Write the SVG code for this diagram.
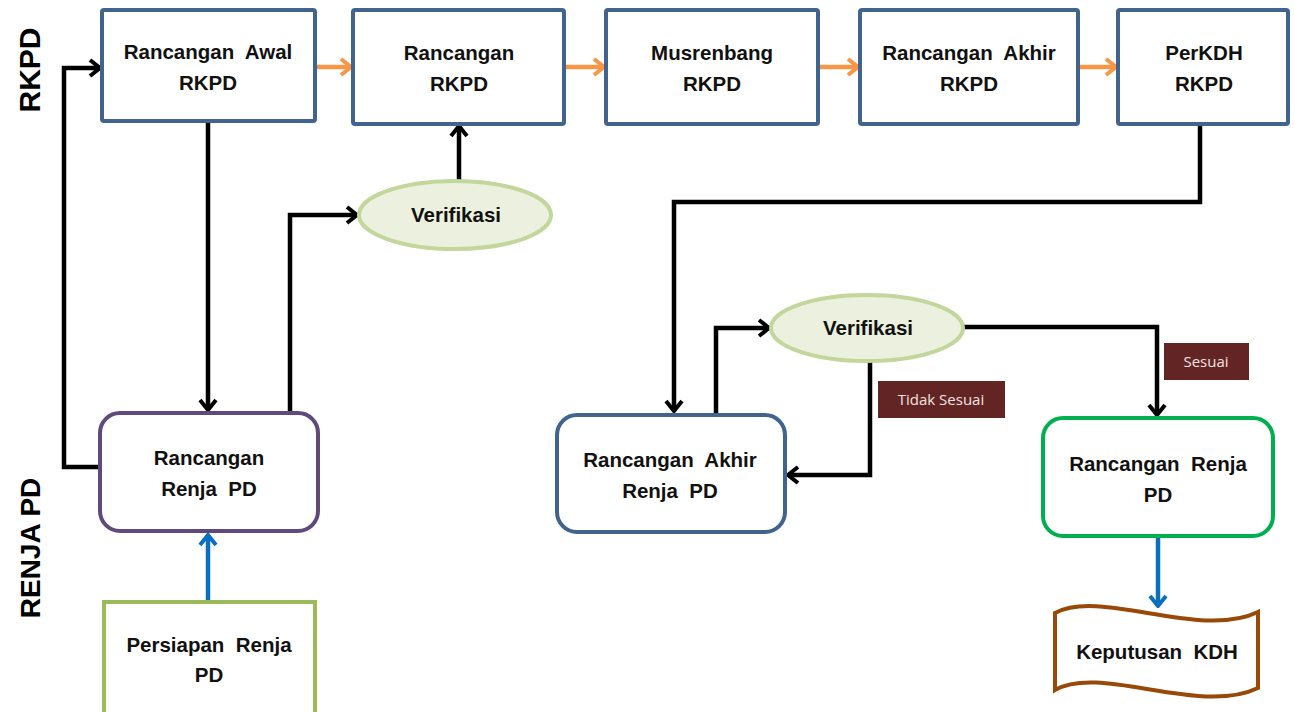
<svg xmlns="http://www.w3.org/2000/svg" width="1295" height="712" viewBox="0 0 1295 712">
<defs>
<style>
.box{fill:#fff;stroke:#41648f;stroke-width:4}
.t{font-family:"Liberation Sans",Arial,sans-serif;font-weight:bold;font-size:20.5px;fill:#111;text-anchor:middle;white-space:pre}
.side{font-family:"Liberation Sans",Arial,sans-serif;font-weight:bold;fill:#000;text-anchor:middle}
.lbl{font-family:"Open Sans","Liberation Sans",sans-serif;font-size:15px;fill:#f2e4e4;text-anchor:middle;white-space:pre}
.ell{fill:#ebf1de;stroke:#c3d69b;stroke-width:4}
.k{fill:none;stroke:#000;stroke-width:4.5;stroke-linejoin:miter}
.o{fill:none;stroke:#f79646;stroke-width:4.5}
.b{fill:none;stroke:#0a6fbf;stroke-width:4.5}
</style>
<marker id="ak" viewBox="0 0 14 20" refX="12" refY="10" markerWidth="14" markerHeight="20" markerUnits="userSpaceOnUse" orient="auto"><path d="M2,2 L12,10 L2,18" fill="none" stroke="#000" stroke-width="4"/></marker>
<marker id="ao" viewBox="0 0 14 20" refX="12" refY="10" markerWidth="14" markerHeight="20" markerUnits="userSpaceOnUse" orient="auto"><path d="M2,2 L12,10 L2,18" fill="none" stroke="#f79646" stroke-width="4"/></marker>
<marker id="ab" viewBox="0 0 14 20" refX="12" refY="10" markerWidth="14" markerHeight="20" markerUnits="userSpaceOnUse" orient="auto"><path d="M2,2 L12,10 L2,18" fill="none" stroke="#0a6fbf" stroke-width="4"/></marker>
</defs>
<rect width="1295" height="712" fill="#fff"/>

<text class="side" font-size="30" transform="translate(40,70) rotate(-90)">RKPD</text>
<text class="side" font-size="28" transform="translate(40,548) rotate(-90)">RENJA PD</text>

<g id="connectors">
<path class="o" d="M317,67 L351,67" marker-end="url(#ao)"/>
<path class="o" d="M566,67 L604,67" marker-end="url(#ao)"/>
<path class="o" d="M820,67 L858,67" marker-end="url(#ao)"/>
<path class="o" d="M1080,67 L1116,67" marker-end="url(#ao)"/>
<path class="k" d="M208,123 L208,410" marker-end="url(#ak)"/>
<path class="k" d="M100,467 L64,467 L64,68 L100,68" marker-end="url(#ak)"/>
<path class="k" d="M290,412 L290,215 L357,215" marker-end="url(#ak)"/>
<path class="k" d="M459,181 L459,126" marker-end="url(#ak)"/>
<path class="k" d="M1200,126 L1200,202 L674,202 L674,411" marker-end="url(#ak)"/>
<path class="k" d="M716,413 L716,328 L769,328" marker-end="url(#ak)"/>
<path class="k" d="M870,362 L870,475 L788,475" marker-end="url(#ak)"/>
<path class="k" d="M963,327 L1157,327 L1157,415" marker-end="url(#ak)"/>
<path class="b" d="M208,601 L208,535" marker-end="url(#ab)"/>
<path class="b" d="M1158,538 L1158,606" marker-end="url(#ab)"/>
</g>

<g id="n-awal">
<rect class="box" x="102" y="10" width="213" height="111" rx="2"/>
<text class="t" x="208" y="59">Rancangan  Awal</text>
<text class="t" x="208" y="90">RKPD</text>
</g>
<g id="n-rancangan">
<rect class="box" x="353" y="10" width="211" height="114" rx="2"/>
<text class="t" x="459" y="60">Rancangan</text>
<text class="t" x="459" y="91">RKPD</text>
</g>
<g id="n-musrenbang">
<rect class="box" x="606" y="10" width="212" height="114" rx="2"/>
<text class="t" x="712" y="60">Musrenbang</text>
<text class="t" x="712" y="91">RKPD</text>
</g>
<g id="n-akhir">
<rect class="box" x="860" y="10" width="218" height="114" rx="2"/>
<text class="t" x="969" y="60">Rancangan  Akhir</text>
<text class="t" x="969" y="91">RKPD</text>
</g>
<g id="n-perkdh">
<rect class="box" x="1118" y="10" width="170" height="114" rx="2"/>
<text class="t" x="1204" y="60">PerKDH</text>
<text class="t" x="1204" y="91">RKPD</text>
</g>

<g id="n-verif1">
<ellipse class="ell" cx="455" cy="215" rx="96" ry="34"/>
<text class="t" x="456" y="222">Verifikasi</text>
</g>

<g id="n-renja">
<rect x="100" y="413" width="218" height="118" rx="20" fill="#fff" stroke="#604a7b" stroke-width="4"/>
<text class="t" x="209" y="465">Rancangan</text>
<text class="t" x="209" y="496">Renja  PD</text>
</g>

<g id="n-persiapan">
<rect x="104" y="602" width="211" height="114" fill="#fff" stroke="#9bbb59" stroke-width="4"/>
<text class="t" x="209" y="652">Persiapan  Renja</text>
<text class="t" x="209" y="682">PD</text>
</g>

<g id="n-akhir-renja">
<rect x="557" y="415" width="228" height="117" rx="20" fill="#fff" stroke="#41648f" stroke-width="4"/>
<text class="t" x="670" y="467">Rancangan  Akhir</text>
<text class="t" x="670" y="498">Renja  PD</text>
</g>

<g id="n-verif2">
<ellipse class="ell" cx="867" cy="328" rx="96" ry="33"/>
<text class="t" x="868" y="335">Verifikasi</text>
</g>

<g id="l-tidak">
<rect x="878" y="381" width="127" height="37" fill="#632523"/>
<text class="lbl" x="941" y="405">Tidak Sesuai</text>
</g>
<g id="l-sesuai">
<rect x="1164" y="343" width="85" height="37" fill="#632523"/>
<text class="lbl" x="1206" y="367">Sesuai</text>
</g>

<g id="n-renja2">
<rect x="1043" y="418" width="230" height="118" rx="20" fill="#fff" stroke="#00b050" stroke-width="4"/>
<text class="t" x="1158" y="471">Rancangan  Renja</text>
<text class="t" x="1158" y="502">PD</text>
</g>

<g id="n-keputusan">
<path d="M1055,613 C1100,588 1200,640 1258,612 L1258,688 C1200,716 1100,664 1055,690 Z" fill="#fff" stroke="#984807" stroke-width="4"/>
<text class="t" x="1157" y="659">Keputusan  KDH</text>
</g>
</svg>
